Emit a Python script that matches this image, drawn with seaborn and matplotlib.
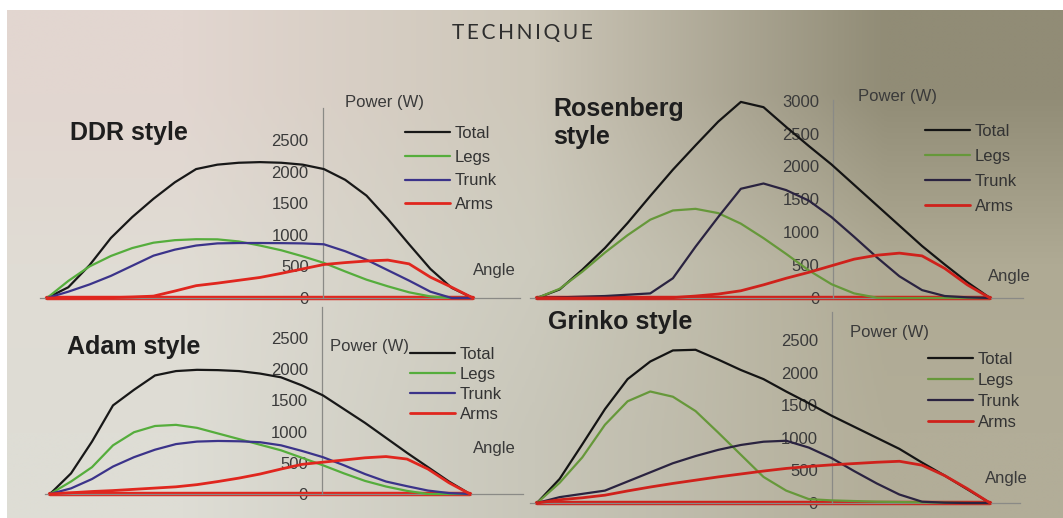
import numpy as np
import pandas as pd
import matplotlib
matplotlib.use("Agg")
import matplotlib.pyplot as plt
import seaborn as sns

# Angle of the stroke (% of drive), same grid for all four panels
ANGLE = list(range(0, 101, 5))
PARTS = ["Total", "Legs", "Trunk", "Arms"]

# Power (W) at each angle
ddr_total = [0, 170, 520, 950, 1280, 1570, 1830, 2040, 2110, 2140, 2150, 2140, 2110, 2040, 1870, 1620, 1250, 850, 460, 160, 0]
ddr_legs = [0, 270, 500, 665, 790, 875, 915, 930, 928, 895, 830, 755, 660, 555, 420, 290, 185, 90, 25, 0, 0]
ddr_trunk = [0, 100, 215, 350, 510, 670, 765, 830, 864, 870, 870, 868, 864, 850, 740, 605, 440, 275, 100, 0, 0]
ddr_arms = [0, 0, 0, 5, 15, 30, 110, 195, 235, 280, 325, 390, 460, 530, 560, 585, 600, 540, 330, 170, 0]

ros_total = [0, 130, 430, 760, 1140, 1550, 1950, 2320, 2680, 2980, 2900, 2600, 2310, 2030, 1720, 1410, 1100, 790, 510, 240, 0]
ros_legs = [0, 140, 400, 690, 955, 1190, 1330, 1355, 1290, 1130, 910, 670, 420, 210, 70, 5, 0, 0, 0, 0, 0]
ros_trunk = [0, 10, 20, 30, 50, 70, 300, 780, 1230, 1660, 1740, 1640, 1480, 1230, 930, 620, 330, 120, 30, 10, 0]
ros_arms = [0, 0, 0, 0, 0, 0, 5, 30, 60, 110, 200, 300, 390, 490, 590, 650, 682, 640, 450, 200, 0]

adam_total = [0, 330, 840, 1420, 1670, 1900, 1970, 1990, 1985, 1970, 1930, 1870, 1740, 1580, 1360, 1140, 900, 660, 430, 200, 0]
adam_legs = [0, 200, 430, 780, 990, 1090, 1108, 1060, 970, 880, 790, 700, 580, 460, 330, 210, 120, 50, 0, 0, 0]
adam_trunk = [0, 90, 240, 440, 590, 710, 800, 840, 850, 845, 830, 780, 690, 590, 460, 320, 200, 125, 55, 15, 0]
adam_arms = [0, 20, 40, 55, 75, 95, 115, 150, 200, 255, 320, 400, 475, 510, 545, 580, 600, 560, 400, 180, 0]

grinko_total = [0, 370, 900, 1440, 1900, 2170, 2340, 2350, 2200, 2040, 1900, 1710, 1530, 1340, 1170, 1000, 830, 620, 420, 210, 0]
grinko_legs = [0, 310, 700, 1200, 1560, 1710, 1630, 1410, 1080, 740, 400, 190, 60, 40, 30, 20, 15, 10, 5, 0, 0]
grinko_trunk = [0, 90, 140, 190, 330, 470, 610, 720, 815, 890, 940, 955, 850, 690, 490, 300, 130, 20, 5, 0, 0]
grinko_arms = [0, 50, 80, 120, 185, 245, 300, 350, 400, 445, 490, 530, 560, 585, 605, 625, 640, 580, 420, 220, 0]

W, H = 1063, 518
LEFT_COLORS = ["#181818", "#55ad3c", "#3b338a", "#e0261e"]
RIGHT_COLORS = ["#141414", "#66983a", "#2a2340", "#cf211b"]

# one dict per panel: series, colours and where things sit on the page (pixels)
panels = [
    dict(title="DDR style", series=[ddr_total, ddr_legs, ddr_trunk, ddr_arms], colors=LEFT_COLORS,
         ax_px=(40, 520), base=298, top=108, per500=31.6, curve_px=(47, 473), spine=64.7, yticks=range(0, 2501, 500),
         title_xy=(70, 133), power_xy=(345, 103), angle_xy=(473, 270), leg_xy=(405, 132), pitch=23.7),
    dict(title="Rosenberg\nstyle", series=[ros_total, ros_legs, ros_trunk, ros_arms], colors=RIGHT_COLORS,
         ax_px=(530, 1023), base=298, top=100, per500=32.9, curve_px=(537, 990), spine=65.4, yticks=range(0, 3001, 500),
         title_xy=(553, 123), power_xy=(858, 97), angle_xy=(988, 277), leg_xy=(925, 130), pitch=25),
    dict(title="Adam style", series=[adam_total, adam_legs, adam_trunk, adam_arms], colors=LEFT_COLORS,
         ax_px=(45, 523), base=494, top=307, per500=31.2, curve_px=(50, 470), spine=64.7, yticks=range(0, 2501, 500),
         title_xy=(67, 347), power_xy=(330, 347), angle_xy=(473, 448), leg_xy=(410, 353), pitch=20),
    dict(title="Grinko style", series=[grinko_total, grinko_legs, grinko_trunk, grinko_arms], colors=RIGHT_COLORS,
         ax_px=(530, 1020), base=503, top=312, per500=32.6, curve_px=(537, 990), spine=65.1, yticks=range(0, 2501, 500),
         title_xy=(548, 322), power_xy=(850, 333), angle_xy=(985, 478), leg_xy=(928, 358), pitch=21),
]

sns.set_theme(style="white")
plt.rcParams['font.family'] = ['Liberation Sans', 'DejaVu Sans']

fig = plt.figure(figsize=(W / 100, H / 100), dpi=100, facecolor="white")

# photographed page: uneven lighting, lighter on the left
bg = np.array([
    [[226, 214, 208], [205, 199, 185], [145, 140, 118]],
    [[224, 220, 212], [205, 203, 190], [175, 170, 148]],
    [[222, 221, 213], [200, 198, 185], [178, 173, 152]],
]) / 255.0
bg_ax = fig.add_axes([7 / W, 0, 1 - 7 / W, 1 - 10 / H])
bg_ax.imshow(bg, aspect="auto", interpolation="bilinear", extent=(0, 1, 0, 1))
bg_ax.set_axis_off()

# spaced capitals, as in the book's running head
fig.text(522 / W, 1 - 33 / H, "\u2009".join("TECHNIQUE"), ha="center", va="center", fontsize=15,
         family=["Lato", "DejaVu Sans"], color="#2e2e2e")

def fx(px):
    return px / W

def fy(py):
    return 1 - py / H

for p in panels:
    left, right = p["ax_px"]
    x0, x100 = p["curve_px"]
    scale = (x100 - x0) / 100.0
    ymax = (p["base"] - p["top"]) / p["per500"] * 500
    ax = fig.add_axes([fx(left), fy(p["base"]), (right - left) / W, (p["base"] - p["top"]) / H])
    ax.patch.set_alpha(0)

    df = pd.DataFrame({"Angle": ANGLE * 4,
                       "Power": sum(p["series"], []),
                       "Part": [part for part in PARTS for _ in ANGLE]})
    # recovery phase: arms line lying on the zero level
    ax.plot([ANGLE[0], ANGLE[-1]], [0, 0], color=p["colors"][3], lw=3.2, solid_capstyle="round",
            clip_on=False, zorder=2)
    for part, color in zip(PARTS, p["colors"]):
        lw = 2.0 if part == "Arms" else 1.6
        sns.lineplot(data=df[df["Part"] == part], x="Angle", y="Power", color=color, lw=lw,
                     ax=ax, clip_on=False, zorder=3, label=part)

    ax.set_xlim((left - x0) / scale, (right - x0) / scale)
    ax.set_ylim(0, ymax)
    ax.set_xlabel("")
    ax.set_ylabel("")
    ax.set_xticks([])
    ax.set_yticks(list(p["yticks"]))
    for s in ["top", "right"]:
        ax.spines[s].set_visible(False)
    ax.spines["left"].set_position(("data", p["spine"]))
    ax.spines["bottom"].set_position(("data", 0))
    for s in ["left", "bottom"]:
        ax.spines[s].set_color("#8a8a86")
        ax.spines[s].set_linewidth(0.9)
    ax.tick_params(axis="y", length=4, width=0.8, color="#8a8a86", pad=6, labelsize=12, labelcolor="#3a3a3a")

    handles, labels = ax.get_legend_handles_labels()
    ls = (p["pitch"] - 15) / 16.7
    ax.legend(handles, labels, loc="upper left",
              bbox_to_anchor=(fx(p["leg_xy"][0]), fy(p["leg_xy"][1] - 6)), bbox_transform=fig.transFigure,
              frameon=False, fontsize=12, handlelength=2.7, handletextpad=0.3, borderpad=0,
              borderaxespad=0, labelspacing=ls, labelcolor="#333333")

    fig.text(fx(p["title_xy"][0]), fy(p["title_xy"][1]), p["title"], ha="left", va="center",
             fontsize=18, fontweight="bold", color="#1e1e1e", linespacing=1.2)
    fig.text(fx(p["power_xy"][0]), fy(p["power_xy"][1]), "Power (W)", ha="left", va="center",
             fontsize=12, color="#3a3a3a")
    fig.text(fx(p["angle_xy"][0]), fy(p["angle_xy"][1]), "Angle", ha="left", va="center",
             fontsize=12, color="#3a3a3a")

fig.savefig("out.png", dpi=100, facecolor=fig.get_facecolor())
